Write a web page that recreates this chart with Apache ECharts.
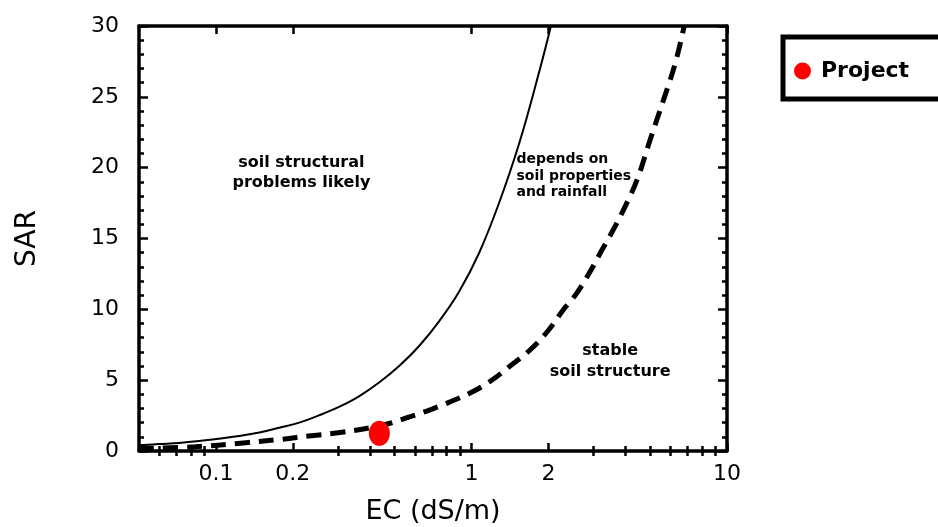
<!DOCTYPE html>
<html>
<head>
<meta charset="utf-8">
<script src="https://cdn.jsdelivr.net/npm/echarts@6/dist/echarts.min.js"></script>
<style>
  html, body { margin: 0; padding: 0; background: #fff; }
  #chart { width: 938px; height: 527px; }
</style>
</head>
<body>
<div id="chart"></div>
<script>
// threshold curves (EC in dS/m, SAR)
const solidEC = [0.05, 0.06, 0.0717, 0.0859, 0.103, 0.123, 0.148, 0.177, 0.212, 0.253, 0.303, 0.363, 0.435, 0.521, 0.624, 0.747, 0.894, 1.07, 1.28, 1.54, 1.84, 2.05]
const solidSAR = [0.40, 0.49, 0.57, 0.70, 0.87, 1.06, 1.31, 1.64, 2.00, 2.51, 3.11, 3.86, 4.83, 6.00, 7.41, 9.15, 11.24, 13.96, 17.47, 21.76, 26.75, 30.06]

const dashedEC = [0.05, 0.083, 0.131, 0.181, 0.23, 0.311, 0.455, 0.57, 0.701, 0.84, 1.006, 1.204, 1.416, 1.695, 1.976, 2.3, 2.58, 2.91, 3.24, 3.54, 3.93, 4.44, 5.0, 5.64, 6.27, 6.8]
const dashedSAR = [0.17, 0.3, 0.59, 0.83, 1.06, 1.32, 1.85, 2.4, 2.96, 3.53, 4.16, 5.01, 6.0, 7.13, 8.4, 10.02, 11.13, 12.65, 14.19, 15.42, 17.0, 19.12, 21.95, 24.77, 27.36, 30.0]

const projectEC = [0.436]
const projectSAR = [1.25]

// x axis is logarithmic
const ecMin = 0.05
const ecMax = 10
const xMajorTicks = [0.1, 0.2, 1, 2, 10]
const xMinorTicks = [0.06, 0.07, 0.08, 0.09, 0.3, 0.4, 0.5, 0.6, 0.7, 0.8, 0.9, 3, 4, 5, 6, 7, 8, 9]

const noteTexts = ['soil structural\nproblems likely', 'depends on\nsoil properties\nand rainfall', 'stable\nsoil structure']
const noteEC = [0.216, 1.5, 3.49]
const noteSAR = [19.6, 19.4, 6.35]

const lg = v => Math.log10(v)
const toPairs = (xs, ys) => xs.map((x, i) => [lg(x), ys[i]])
const ellipse = 'path://M0,10A10,10,0,1,1,20,10A10,10,0,1,1,0,10Z'
const font = 'DejaVu Sans'

const chart = echarts.init(document.getElementById('chart'))

const lineStyle = { color: '#000', width: 3.5 }
const tickStyle = { color: '#000', width: 2.5 }
const xBase = {
  type: 'value',
  min: lg(ecMin),
  max: lg(ecMax),
  splitLine: { show: false },
  axisLine: { show: true, onZero: false, lineStyle: lineStyle }
}
const yBase = {
  type: 'value',
  min: 0,
  max: 30,
  interval: 5,
  splitLine: { show: false },
  axisLine: { show: true, onZero: false, lineStyle: lineStyle },
  axisTick: { show: true, inside: true, length: 9, lineStyle: tickStyle },
  minorTick: { show: true, splitNumber: 5, length: 5, lineStyle: tickStyle }
}

chart.setOption({
  animation: false,
  backgroundColor: '#fff',
  grid: { left: 139, right: 211, top: 26, bottom: 76, outerBoundsMode: 'none' },
  legend: {
    data: ['Project'],
    selectedMode: false,
    left: 783,
    top: 37,
    padding: [23, 80, 17, 11],
    borderColor: '#000',
    borderWidth: 5,
    itemWidth: 17,
    itemHeight: 21,
    itemStyle: { opacity: 1 },
    textStyle: { fontFamily: font, fontWeight: 'bold', fontSize: 22, color: '#000', padding: [0, 0, 0, 5] }
  },
  xAxis: [
    Object.assign({}, xBase, {
      position: 'bottom',
      name: 'EC (dS/m)',
      nameLocation: 'middle',
      nameGap: 47,
      nameTextStyle: { fontFamily: font, fontSize: 27, color: '#000' },
      axisTick: { show: true, inside: true, length: 8, customValues: xMajorTicks.map(lg), lineStyle: tickStyle },
      axisLabel: {
        show: true,
        margin: 12,
        customValues: xMajorTicks.map(lg),
        formatter: v => String(Math.round(Math.pow(10, v) * 100) / 100),
        fontFamily: font,
        fontSize: 22,
        color: '#000'
      }
    }),
    Object.assign({}, xBase, {
      position: 'bottom',
      axisLine: { show: false },
      axisTick: { show: true, inside: true, length: 5, customValues: xMinorTicks.map(lg), lineStyle: tickStyle },
      axisLabel: { show: false }
    }),
    Object.assign({}, xBase, {
      position: 'top',
      axisTick: { show: true, inside: true, length: 8, customValues: xMajorTicks.map(lg), lineStyle: tickStyle },
      axisLabel: { show: false }
    }),
    Object.assign({}, xBase, {
      position: 'top',
      axisLine: { show: false },
      axisTick: { show: true, inside: true, length: 5, customValues: xMinorTicks.map(lg), lineStyle: tickStyle },
      axisLabel: { show: false }
    })
  ],
  yAxis: [
    Object.assign({}, yBase, {
      position: 'left',
      name: 'SAR',
      nameLocation: 'middle',
      nameGap: 97,
      nameRotate: 90,
      nameTextStyle: { fontFamily: font, fontSize: 28, color: '#000' },
      axisLabel: { show: true, margin: 20, fontFamily: font, fontSize: 22, color: '#000' }
    }),
    Object.assign({}, yBase, {
      position: 'right',
      axisLabel: { show: false }
    })
  ],
  series: [
    {
      name: 'limit',
      type: 'line',
      xAxisIndex: 0,
      yAxisIndex: 0,
      data: toPairs(solidEC, solidSAR),
      smooth: 0.4,
      showSymbol: false,
      lineStyle: { color: '#000', width: 2 },
      z: 3
    },
    {
      name: 'threshold',
      type: 'line',
      xAxisIndex: 0,
      yAxisIndex: 0,
      data: toPairs(dashedEC, dashedSAR),
      smooth: 0.4,
      showSymbol: false,
      lineStyle: { color: '#000', width: 5, type: [15, 9] },
      z: 3
    },
    {
      name: 'Project',
      type: 'scatter',
      xAxisIndex: 0,
      yAxisIndex: 0,
      data: toPairs(projectEC, projectSAR),
      symbol: ellipse,
      symbolKeepAspect: false,
      symbolSize: [21, 25],
      itemStyle: { color: '#ff0000', opacity: 1 },
      z: 4
    }
  ]
})

// region notes placed through the axes
chart.setOption({
  graphic: noteTexts.map((t, i) => {
    const p = chart.convertToPixel({ seriesIndex: 0 }, [lg(noteEC[i]), noteSAR[i]])
    const left = i === 1
    const size = i === 1 ? 14 : 16
    return {
      type: 'text',
      x: p[0],
      y: p[1],
      z: 10,
      style: {
        text: t,
        fill: '#000',
        font: 'bold ' + size + 'px "DejaVu Sans"',
        lineHeight: i === 1 ? 16.5 : (i === 0 ? 20 : 21),
        align: left ? 'left' : 'center',
        textAlign: left ? 'left' : 'center',
        verticalAlign: 'middle',
        textVerticalAlign: 'middle'
      }
    }
  })
})
</script>
</body>
</html>
